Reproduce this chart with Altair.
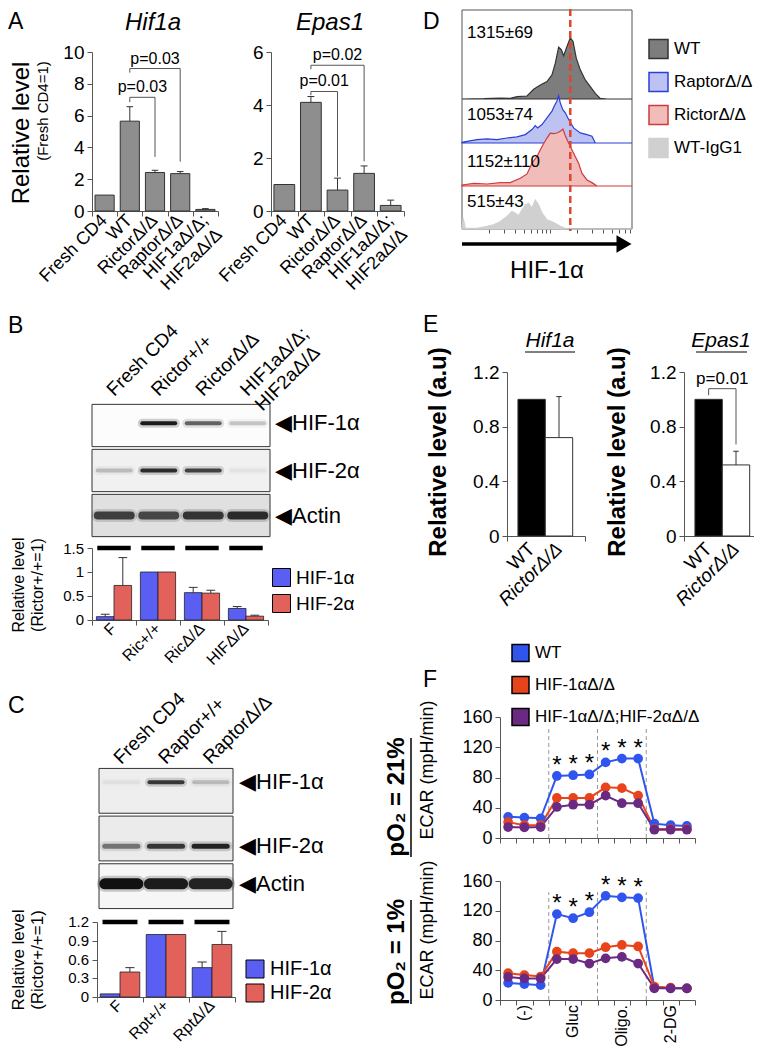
import altair as alt
import pandas as pd

W, H, M = 746, 1041, 8
FONT = "Liberation Sans"
AXC = "#555555"

# ---------------- DATA ----------------
# Panel A
A_cats = ["Fresh CD4", "WT", "RictorΔ/Δ", "RaptorΔ/Δ", "HIF1aΔ/Δ;\nHIF2aΔ/Δ"]
A_hif1a_mean = [1.00, 5.65, 2.42, 2.35, 0.10]
A_hif1a_sd = [0.00, 0.91, 0.14, 0.13, 0.05]
A_epas1_mean = [1.00, 4.10, 0.79, 1.42, 0.21]
A_epas1_sd = [0.00, 0.22, 0.45, 0.28, 0.20]
A_hif1a_p_label = ["p=0.03", "p=0.03"]
A_hif1a_p_from = [1, 1]
A_hif1a_p_to = [2, 3]
A_hif1a_p_top = [7.15, 8.96]
A_hif1a_p_left = [6.85, 8.70]
A_hif1a_p_right = [3.40, 3.10]
A_epas1_p_label = ["p=0.01", "p=0.02"]
A_epas1_p_from = [1, 1]
A_epas1_p_to = [2, 3]
A_epas1_p_top = [4.51, 5.50]
A_epas1_p_left = [4.37, 5.35]
A_epas1_p_right = [1.30, 1.87]

# Panel B
B_lanes = ["Fresh CD4", "Rictor+/+", "RictorΔ/Δ", "HIF1aΔ/Δ;\nHIF2aΔ/Δ"]
BLOT_proteins = ["HIF-1α", "HIF-2α", "Actin"]
B_band_intensity = [[0.00, 0.95, 0.60, 0.20],
                    [0.20, 0.85, 0.75, 0.05],
                    [0.75, 0.70, 0.80, 0.85]]
B_groups = ["F", "Ric+/+", "RicΔ/Δ", "HIFΔ/Δ"]
B_hif1_mean = [0.07, 1.00, 0.57, 0.24]
B_hif1_sd = [0.05, 0.00, 0.11, 0.04]
B_hif2_mean = [0.72, 1.00, 0.56, 0.08]
B_hif2_sd = [0.58, 0.00, 0.06, 0.02]
B_yticks = [0, 0.5, 1, 1.5]

# Panel C
C_lanes = ["Fresh CD4", "Raptor+/+", "RaptorΔ/Δ"]
C_band_intensity = [[0.05, 0.80, 0.20],
                    [0.50, 0.80, 0.90],
                    [1.00, 0.95, 0.90]]
C_groups = ["F", "Rpt+/+", "RptΔ/Δ"]
C_hif1_mean = [0.05, 1.00, 0.47]
C_hif1_sd = [0.00, 0.00, 0.09]
C_hif2_mean = [0.40, 1.00, 0.84]
C_hif2_sd = [0.07, 0.00, 0.21]
C_yticks = [0, 0.3, 0.6, 0.9, 1.2]
BC_series = ["HIF-1α", "HIF-2α"]

# Panel D (flow histograms, % of mode vs HIF-1α fluorescence)
D_samples = ["WT", "RaptorΔ/Δ", "RictorΔ/Δ", "WT-IgG1"]
D_mfi_text = ["1315±69", "1053±74", "1152±110", "515±43"]
D_wt_x = [100, 176, 272, 352, 420, 545, 648, 771, 917, 1045, 1140, 1243, 1333, 1416, 1545,
          1684, 1806, 1969, 2186, 2489, 2837, 3230, 3680, 4383, 8420]
D_wt_y = [0, 0.5, 1.6, 1.1, 3.8, 4.9, 15.9, 23, 28.6, 39.6, 58.8, 85, 80.8, 70.9, 86.3,
          100, 94.5, 67, 47.8, 31.3, 20.3, 9.3, 1.1, 0, 0]
D_rap_x = [100, 114, 148, 192, 249, 323, 420, 521, 620, 676, 719, 805, 917, 1045, 1110, 1189,
           1243, 1297, 1380, 1479, 1614, 1837, 2186, 2602, 2965, 3230, 8420]
D_rap_y = [1.4, 3.6, 7.1, 8.6, 7.1, 10.7, 12.9, 17.9, 28.6, 37.1, 32.1, 39.3, 53.6, 67.9, 78.6, 89.3,
           100, 85.7, 71.4, 64.3, 50, 32.1, 21.4, 17.9, 14.3, 0, 0]
D_ric_x = [100, 136, 192, 272, 352, 457, 545, 620, 706, 805, 917, 1000, 1091, 1189, 1297, 1390,
           1479, 1614, 1837, 2094, 2281, 2602, 2965, 3374, 8420]
D_ric_y = [1.8, 4.7, 3.5, 5.9, 5.9, 13.5, 21.2, 40, 51.8, 69.4, 84.1, 92.9, 91.8, 92.9, 95.9, 100,
           88.2, 75.3, 57.6, 40, 22.4, 10.6, 5.9, 0, 0]
D_igg_x = [100, 103, 109, 148, 192, 228, 272, 323, 368, 402, 438, 478, 521, 569, 620, 676, 738,
           805, 917, 1091, 1297, 1545, 8420]
D_igg_y = [0, 37.5, 3.4, 2.3, 9.1, 14.8, 26.1, 43.2, 60.2, 54.5, 45.5, 65.9, 83, 88.6, 71.6, 100, 83,
           54.5, 31.8, 22.7, 9.1, 0, 0]
D_ref_mfi = [1684]
D_ticks = [200, 300, 400, 500, 600, 700, 800, 900, 1000, 2000, 3000, 4000, 5000, 6000, 7000, 8000]

# Panel E
E_cats = ["WT", "RictorΔ/Δ"]
E_hif1a_mean = [1.00, 0.72]
E_hif1a_sd = [0.00, 0.30]
E_epas1_mean = [1.00, 0.52]
E_epas1_sd = [0.00, 0.10]
E_epas1_p_label = ["p=0.01"]
E_epas1_p_from = [0]
E_epas1_p_to = [1]
E_epas1_p_top = [1.078]
E_epas1_p_left = [1.03]
E_epas1_p_right = [0.67]

# Panel F (ECAR)
F_steps = list(range(1, 13))
F_series = ["WT", "HIF-1αΔ/Δ", "HIF-1αΔ/Δ;HIF-2αΔ/Δ"]
F_colors = ["#2f55ee", "#e8441c", "#6a2a82"]
F21_wt = [28, 27, 26, 82, 83, 84, 100, 105, 105, 19, 17, 16]
F21_hif1 = [21, 17, 17, 53, 53, 53, 67, 66, 56, 12, 12, 12]
F21_dko = [14.5, 14, 14.5, 41, 44, 44, 56, 46, 46, 11, 11, 11]
F1_wt = [23, 21.5, 20, 115.5, 110, 118, 140, 138, 137, 16.5, 15.7, 15.7]
F1_hif1 = [36, 33.5, 31.5, 65, 63, 63, 71, 74, 72, 18, 16.6, 15.7]
F1_dko = [31, 29, 29, 55, 55, 49, 56, 58, 49, 15.7, 15.7, 15.7]
F_xlabels = ["(-)", "Gluc", "Oligo.", "2-DG"]
F_xlabel_steps = [2, 5, 8, 11]
F_star_steps = [4, 5, 6, 7, 8, 9]


# ---------------- helpers ----------------
def X(v):
    return v - M


def Y(v):
    return v - M


def ax_y(axis_x, values, size, labels=True):
    return alt.Axis(orient="left", offset=-X(axis_x), values=values, title=None, grid=False,
                    labels=labels, labelFont=FONT, labelFontSize=size, labelColor="black",
                    labelPadding=3, labelOverlap=False, labelFlush=False, labelBound=False,
                    format="~r", domainColor=AXC, tickColor=AXC, tickSize=5)


def ax_x(axis_y, values, tick=5, domain=True):
    return alt.Axis(orient="bottom", offset=Y(axis_y) - H, values=values, labels=False, title=None,
                    grid=False, domain=domain, domainColor=AXC, tickColor=AXC, tickSize=tick)


ONE = pd.DataFrame({"t": ["x"]})


def txt(s, x, y, size, weight="normal", style="normal", angle=0, align="center",
        baseline="middle", color="black"):
    return alt.Chart(pd.DataFrame({"t": [s]})).mark_text(
        font=FONT, fontSize=size, fontWeight=weight, fontStyle=style, angle=angle,
        align=align, baseline=baseline, color=color, lineBreak="\n"
    ).encode(text="t:N", x=alt.value(X(x)), y=alt.value(Y(y)))


def seg(x0, x1, y0, y1, width=1.0, color="black"):
    return alt.Chart(ONE).mark_rule(color=color, strokeWidth=width).encode(
        x=alt.value(X(x0)), x2=alt.value(X(x1)), y=alt.value(Y(y0)), y2=alt.value(Y(y1)))


def brackets(labels, frm, to, top, left, right):
    return {"p": labels, "a": frm, "b": to, "top": top, "lb": left, "rb": right}


def bar_panel(cats, mean, sd, lefts, rights, centers, xdom, xticks, x0, x1, yb, yt, ydom,
              yvals, tsize, fills, cap, br=None, br_size=15):
    df = pd.DataFrame({"cat": cats, "m": mean, "sd": sd, "l": lefts, "r": rights, "c": centers})
    df["z"] = 0.0
    df["top"] = df["m"] + df["sd"]
    df["cl"] = df["c"] - cap
    df["cr"] = df["c"] + cap
    xs = alt.Scale(domain=xdom, range=[X(x0), X(x1)], nice=False, zero=False)
    ys = alt.Scale(domain=ydom, range=[Y(yb), Y(yt)], nice=False, zero=False)
    xa = ax_x(yb, xticks)
    ya = ax_y(x0, yvals, tsize)

    def ex(f):
        return alt.X(f, type="quantitative", scale=xs, axis=xa)

    def ey(f):
        return alt.Y(f, type="quantitative", scale=ys, axis=ya)

    base = alt.Chart(df)
    layers = [base.mark_rect(stroke="#333333", strokeWidth=1).encode(
        x=ex("l"), x2="r", y=ey("m"), y2="z",
        fill=alt.Fill("cat:N", scale=alt.Scale(domain=cats, range=fills), legend=None))]
    eb = base.transform_filter("datum.sd > 0")
    layers += [eb.mark_rule(color="#333333").encode(x=ex("c"), y=ey("m"), y2="top"),
               eb.mark_rule(color="#333333").encode(x=ex("cl"), x2="cr", y=ey("top"))]
    if br is not None:
        bd = pd.DataFrame(br)
        bd["xa"] = [centers[k] for k in bd["a"]]
        bd["xb"] = [centers[k] for k in bd["b"]]
        bd["mid"] = (bd["xa"] + bd["xb"]) / 2
        bb = alt.Chart(bd)
        layers += [
            bb.mark_rule(color="#555555").encode(x=ex("xa"), x2="xb", y=ey("top")),
            bb.mark_rule(color="#555555").encode(x=ex("xa"), y=ey("top"), y2="lb"),
            bb.mark_rule(color="#555555").encode(x=ex("xb"), y=ey("top"), y2="rb"),
            bb.mark_text(font=FONT, fontSize=br_size, baseline="alphabetic", dy=-5).encode(
                x=ex("mid"), y=ey("top"), text="p:N"),
        ]
    return layers, ex, ey


def xlabels(ex, centers, labels, y, size, angle=315, align="right", baseline="middle",
            style="normal"):
    return alt.Chart(pd.DataFrame({"c": centers, "t": labels})).mark_text(
        font=FONT, fontSize=size, angle=angle, align=align, baseline=baseline,
        fontStyle=style, lineBreak="\n").encode(x=ex("c"), y=alt.value(Y(y)), text="t:N")


def grouped_panel(groups, m1, s1, m2, s2, colors, x0, x1, yb, yt, ydom, yvals, lane_y, tsize,
                  halfw, cap, lab_y, lab_size, leg, label_vals):
    n = len(groups)
    rows = []
    for i in range(n):
        rows.append({"g": groups[i], "s": BC_series[0], "m": m1[i], "sd": s1[i],
                     "l": i - halfw, "r": float(i), "c": i - halfw / 2})
        rows.append({"g": groups[i], "s": BC_series[1], "m": m2[i], "sd": s2[i],
                     "l": float(i), "r": i + halfw, "c": i + halfw / 2})
    df = pd.DataFrame(rows)
    df["z"] = 0.0
    df["top"] = df["m"] + df["sd"]
    df["cl"] = df["c"] - cap
    df["cr"] = df["c"] + cap
    xs = alt.Scale(domain=[-0.5, n - 0.5], range=[X(x0), X(x1)], nice=False, zero=False)
    ys = alt.Scale(domain=ydom, range=[Y(yb), Y(yt)], nice=False, zero=False)
    xa = ax_x(yb, [k - 0.5 for k in range(n + 1)])
    ya = ax_y(x0, yvals, tsize, labels=False)

    def ex(f):
        return alt.X(f, type="quantitative", scale=xs, axis=xa)

    def ey(f):
        return alt.Y(f, type="quantitative", scale=ys, axis=ya)

    base = alt.Chart(df)
    bars = base.mark_rect(stroke="#222222", strokeWidth=0.8).encode(
        x=ex("l"), x2="r", y=ey("m"), y2="z",
        color=alt.Color("s:N", scale=alt.Scale(domain=BC_series, range=colors), legend=leg))
    eb = base.transform_filter("datum.sd > 0")
    err = eb.mark_rule(color="#333333").encode(x=ex("c"), y=ey("m"), y2="top")
    capm = eb.mark_rule(color="#333333").encode(x=ex("cl"), x2="cr", y=ey("top"))
    lanes = pd.DataFrame({"l": [i - 0.38 for i in range(n)], "r": [i + 0.38 for i in range(n)],
                          "y": [lane_y] * n})
    lane_rule = alt.Chart(lanes).mark_rule(color="black", strokeWidth=4.5).encode(
        x=ex("l"), x2="r", y=ey("y"))
    labs = xlabels(ex, list(range(n)), groups, lab_y, lab_size)
    # tick labels of the value axis, drawn as text through the same y scale
    tdf = pd.DataFrame({"v": [float(v) for v in label_vals]})
    tdf["t"] = [f"{v:g}" for v in label_vals]
    ticks = alt.Chart(tdf).mark_text(font=FONT, fontSize=tsize, align="right",
                                     baseline="middle", color="black").encode(
        x=alt.value(X(x0) - 8), y=ey("v"), text="t:N")
    return alt.layer(bars, err, capm, lane_rule, labs, ticks)


def blot_panel(lane_labels, intens, widths, fills, bandpos, x0, x1, y0, y1, hdr_y, hdr_size,
               lab_x, lab_size):
    nl = len(lane_labels)
    nr = len(BLOT_proteins)
    xs = alt.Scale(domain=[0, nl], range=[X(x0), X(x1)], nice=False, zero=False)
    ys = alt.Scale(domain=[0, nr], range=[Y(y0), Y(y1)], nice=False, zero=False)

    def ex(f):
        return alt.X(f, type="quantitative", scale=xs, axis=None)

    def ey(f):
        return alt.Y(f, type="quantitative", scale=ys, axis=None)

    boxes = pd.DataFrame({"p": ["◀" + p for p in BLOT_proteins], "bg": fills,
                          "a": [0.0] * nr, "b": [float(nl)] * nr,
                          "t": [r + 0.03 for r in range(nr)], "u": [r + 0.97 for r in range(nr)],
                          "c": [r + bandpos[r] for r in range(nr)]})
    rows = []
    for r in range(nr):
        for j in range(nl):
            rows.append({"l": j + 0.13, "r": j + 0.87, "y": r + bandpos[r],
                         "o": intens[r][j], "w": widths[r],
                         "ho": intens[r][j] * 0.22, "hw": widths[r] + 5})
    bands = pd.DataFrame(rows)
    box = alt.Chart(boxes).mark_rect(stroke="#333333", strokeWidth=1).encode(
        x=ex("a"), x2="b", y=ey("t"), y2="u", fill=alt.Fill("bg:N", scale=None))
    halo = alt.Chart(bands).mark_rule(color="#222222", strokeCap="round").encode(
        x=ex("l"), x2="r", y=ey("y"), strokeWidth=alt.StrokeWidth("hw:Q", scale=None),
        opacity=alt.Opacity("ho:Q", scale=None))
    band = alt.Chart(bands).mark_rule(color="#111111", strokeCap="round").encode(
        x=ex("l"), x2="r", y=ey("y"), strokeWidth=alt.StrokeWidth("w:Q", scale=None),
        opacity=alt.Opacity("o:Q", scale=None))
    hdr = alt.Chart(pd.DataFrame({"c": [j + 0.5 for j in range(nl)], "t": lane_labels})).mark_text(
        font=FONT, fontSize=hdr_size, angle=315, align="left", baseline="alphabetic",
        lineBreak="\n").encode(x=ex("c"), y=alt.value(Y(hdr_y)), text="t:N")
    lab = alt.Chart(boxes).mark_text(font=FONT, fontSize=lab_size, align="left",
                                     baseline="middle").encode(
        x=alt.value(X(lab_x)), y=ey("c"), text="p:N")
    return alt.layer(box, halo, band, hdr, lab)


def legend(x, y, sym, font, rowpad, strokew=1.0):
    return alt.Legend(orient="none", legendX=X(x), legendY=Y(y), title=None, symbolType="square",
                      symbolSize=sym * sym, symbolStrokeColor="black", symbolStrokeWidth=strokew,
                      labelFont=FONT, labelFontSize=font, labelOffset=5, rowPadding=rowpad,
                      padding=0, labelLimit=400, symbolOffset=0)


# ---------------- Panel A ----------------
nA = len(A_cats)
cA = list(range(nA))
layA1, exA1, _ = bar_panel(
    A_cats, A_hif1a_mean, A_hif1a_sd, [c - 0.38 for c in cA], [c + 0.38 for c in cA], cA,
    [-0.5, nA - 0.5], [k - 0.5 for k in range(nA + 1)], 92, 218, 211, 52, [0, 10],
    [0, 2, 4, 6, 8, 10], 19, ["#8e8e8e"] * nA, 0.13,
    br=brackets(A_hif1a_p_label, A_hif1a_p_from, A_hif1a_p_to, A_hif1a_p_top,
                A_hif1a_p_left, A_hif1a_p_right), br_size=16)
panelA1 = alt.layer(*layA1, xlabels(exA1, cA, A_cats, 218, 18))

layA2, exA2, _ = bar_panel(
    A_cats, A_epas1_mean, A_epas1_sd, [c - 0.39 for c in cA], [c + 0.39 for c in cA], cA,
    [-0.5, nA - 0.5], [k - 0.5 for k in range(nA + 1)], 271, 404, 211, 52, [0, 6],
    [0, 2, 4, 6], 19, ["#8e8e8e"] * nA, 0.13,
    br=brackets(A_epas1_p_label, A_epas1_p_from, A_epas1_p_to, A_epas1_p_top,
                A_epas1_p_left, A_epas1_p_right), br_size=16)
panelA2 = alt.layer(*layA2, xlabels(exA2, cA, A_cats, 218, 18))

# ---------------- Panel B ----------------
blotB = blot_panel(B_lanes, B_band_intensity, [4, 4, 8], ["#fcfcfc", "#f1f1f1", "#e0e0e0"],
                   [0.45, 0.5, 0.5], 92, 270, 403, 538, 397, 19, 275, 22)
barsB = grouped_panel(B_groups, B_hif1_mean, B_hif1_sd, B_hif2_mean, B_hif2_sd,
                      ["#5a5ef2", "#e2625b"], 92, 268, 620, 548, [0, 1.5], B_yticks,
                      1.5, 15, 0.4, 0.1, 626, 16, legend(272, 568, 18, 19, 3), B_yticks[:-1])

# ---------------- Panel C ----------------
blotC = blot_panel(C_lanes, C_band_intensity, [4, 5, 11], ["#eeeeee", "#ebebeb", "#f6f6f6"],
                   [0.32, 0.66, 0.45], 99, 233, 767, 910, 765, 19, 239, 22)
barsC = grouped_panel(C_groups, C_hif1_mean, C_hif1_sd, C_hif2_mean, C_hif2_sd,
                      ["#5a5ef2", "#e2625b"], 97, 235, 997, 922, [0, 1.2],
                      C_yticks, 1.2, 15, 0.43, 0.1, 1003, 16,
                      legend(245, 959, 18, 20, 2), C_yticks)

# ---------------- Panel D ----------------
xsD = alt.Scale(type="log", domain=[100, 8420], range=[X(462), X(632)], nice=False)
xaD = ax_x(229, D_ticks, tick=4, domain=False)
fsD = alt.Scale(domain=D_samples, range=["#7d7d7d", "#bcc3f2", "#f0bdba", "#d0d0d0"])
ssD = alt.Scale(domain=D_samples, range=["#333333", "#2b3fd6", "#d03a3a", "#d0d0d0"])
legD = alt.Legend(orient="none", legendX=X(648), legendY=Y(38.5), title=None, symbolType="square",
                  symbolSize=361, symbolStrokeWidth=1.5, labelFont=FONT, labelFontSize=17,
                  labelOffset=5, rowPadding=8, padding=0, labelLimit=400, symbolOffset=0)
frameD = alt.Chart(ONE).mark_rect(fill="white", fillOpacity=0, stroke=AXC, strokeWidth=1).encode(
    x=alt.value(X(462)), x2=alt.value(X(632)), y=alt.value(Y(10)), y2=alt.value(Y(229)))
d_layers = [frameD]
for name, xv, yv, base, peak in zip(D_samples, [D_wt_x, D_rap_x, D_ric_x, D_igg_x],
                                    [D_wt_y, D_rap_y, D_ric_y, D_igg_y],
                                    [99, 143, 186, 229], [61, 47, 57, 29]):
    dfh = pd.DataFrame({"x": xv, "y": yv})
    dfh["s"] = name
    dfh["z"] = 0.0
    ysc = alt.Scale(domain=[0, 100], range=[Y(base), Y(base - peak)], nice=False, zero=False)
    d_layers.append(alt.Chart(dfh).mark_area(strokeWidth=1.2, interpolate="linear").encode(
        x=alt.X("x:Q", scale=xsD, axis=xaD), y=alt.Y("y:Q", scale=ysc, axis=None), y2="z",
        fill=alt.Fill("s:N", scale=fsD, legend=legD),
        stroke=alt.Stroke("s:N", scale=ssD, legend=legD)))
d_layers.append(alt.Chart(pd.DataFrame({"v": D_ref_mfi})).mark_rule(
    color="#e0452e", strokeWidth=2.5, strokeDash=[7, 4]).encode(
    x=alt.X("v:Q", scale=xsD, axis=xaD), y=alt.value(Y(9)), y2=alt.value(Y(231))))
panelD = alt.layer(*d_layers).resolve_scale(y="independent")

# ---------------- Panel E ----------------
eL = [0.0, 1.0]
eR = [1.0, 2.0]
eC = [0.5, 1.5]
layE1, exE1, _ = bar_panel(E_cats, E_hif1a_mean, E_hif1a_sd, eL, eR, eC, [-0.4, 2.45],
                           [-0.4, 2.45], 507, 585, 536, 372, [0, 1.2], [0, 0.4, 0.8, 1.2], 19,
                           ["black", "white"], 0.1)
layE2, exE2, _ = bar_panel(E_cats, E_epas1_mean, E_epas1_sd, eL, eR, eC, [-0.4, 2.45],
                           [-0.4, 2.45], 684, 762, 536, 372, [0, 1.2], [0, 0.4, 0.8, 1.2], 19,
                           ["black", "white"], 0.1,
                           br=brackets(E_epas1_p_label, E_epas1_p_from, E_epas1_p_to,
                                       E_epas1_p_top, E_epas1_p_left, E_epas1_p_right),
                           br_size=17)
panelE1 = alt.layer(*layE1, xlabels(exE1, [eC[0]], [E_cats[0]], 546, 19),
                    xlabels(exE1, [eC[1]], [E_cats[1]], 546, 19, style="italic"))
panelE2 = alt.layer(*layE2, xlabels(exE2, [eC[0]], [E_cats[0]], 546, 19),
                    xlabels(exE2, [eC[1]], [E_cats[1]], 546, 19, style="italic"))


# ---------------- Panel F ----------------
def f_panel(wt, h1, dko, yb, yt, leg, labels):
    rows = []
    for s, vals in zip(F_series, [wt, h1, dko]):
        for st, v in zip(F_steps, vals):
            rows.append({"step": st, "s": s, "v": v})
    df = pd.DataFrame(rows)
    xs = alt.Scale(domain=[0.5, 12.5], range=[X(500), X(695)], nice=False, zero=False)
    ys = alt.Scale(domain=[0, 160], range=[Y(yb), Y(yt)], nice=False, zero=False)
    xa = ax_x(yb, [k + 0.5 for k in range(13)])
    ya = ax_y(500, [0, 40, 80, 120, 160], 18)

    def ex(f):
        return alt.X(f, type="quantitative", scale=xs, axis=xa)

    def ey(f):
        return alt.Y(f, type="quantitative", scale=ys, axis=ya)

    # fill scale (points, carries the legend); line scale uses the reversed domain order
    fs = alt.Scale(domain=F_series, range=F_colors)
    ls = alt.Scale(domain=F_series[::-1], range=F_colors[::-1])
    bounds = pd.DataFrame({"b": [3 * k + 0.5 for k in (1, 2, 3)], "lo": [0.0] * 3,
                           "hi": [145.0] * 3})
    dash = alt.Chart(bounds).mark_rule(color="#999999", strokeWidth=1, strokeDash=[4, 3]).encode(
        x=ex("b"), y=ey("lo"), y2="hi")
    base = alt.Chart(df)
    lines = base.mark_line(strokeWidth=2).encode(
        x=ex("step"), y=ey("v"), stroke=alt.Stroke("s:N", scale=ls, legend=None),
        detail="s:N")
    if leg is None:
        fill_enc = alt.Fill("s:N", scale=fs, legend=None)
    else:
        fill_enc = alt.Fill("s:N", scale=fs, legend=leg)
    pts = base.mark_circle(size=95, opacity=1).encode(x=ex("step"), y=ey("v"), fill=fill_enc)
    sdf = df[(df["s"] == "WT") & (df["step"].isin(F_star_steps))]
    stars = alt.Chart(sdf).mark_text(text="*", font=FONT, fontSize=24, baseline="alphabetic",
                                     dy=-3).encode(x=ex("step"), y=ey("v"))
    layers = [dash, lines, pts, stars]
    if labels:
        layers.append(alt.Chart(pd.DataFrame({"c": F_xlabel_steps, "t": F_xlabels})).mark_text(
            font=FONT, fontSize=16, angle=270, align="right", baseline="middle").encode(
            x=ex("c"), y=alt.value(Y(1005)), text="t:N"))
    return alt.layer(*layers)


panelF1 = f_panel(F21_wt, F21_hif1, F21_dko, 838, 717, legend(511, 643.5, 17, 17, 9, 1.5), False)
panelF2 = f_panel(F1_wt, F1_hif1, F1_dko, 1000, 881, None, True)

# ---------------- annotations ----------------
notes = [
    txt("A", 8, 29, 23, align="left", baseline="alphabetic"),
    txt("B", 8, 333, 23, align="left", baseline="alphabetic"),
    txt("C", 8, 713, 23, align="left", baseline="alphabetic"),
    txt("D", 423, 29, 23, align="left", baseline="alphabetic"),
    txt("E", 423, 332, 23, align="left", baseline="alphabetic"),
    txt("F", 423, 687, 23, align="left", baseline="alphabetic"),
    txt("Hif1a", 153, 23, 24, style="italic"), txt("Epas1", 330, 23, 24, style="italic"),
    txt("Relative level", 22, 133, 24, angle=270), txt("(Fresh CD4=1)", 43, 111, 15, angle=270),
    txt("Relative level", 19, 585, 16, angle=270), txt("(Rictor+/+=1)", 38, 585, 16, angle=270),
    txt("Relative level", 19, 960, 17, angle=270), txt("(Rictor+/+=1)", 38, 960, 17, angle=270),
    txt("1.5", 84, 549, 15, align="right"),
    txt(D_mfi_text[0], 467, 33, 17, align="left"), txt(D_mfi_text[1], 467, 115, 17, align="left"),
    txt(D_mfi_text[2], 467, 162, 17, align="left"), txt(D_mfi_text[3], 467, 202, 17, align="left"),
    seg(462, 618, 244, 244, width=3.5),
    alt.Chart(ONE).mark_point(shape="triangle-right", filled=True, size=300, color="black",
                              opacity=1).encode(x=alt.value(X(624)), y=alt.value(Y(244))),
    txt("HIF-1α", 547, 271, 24),
    txt("Hif1a", 550, 341, 21, style="italic"), seg(525, 575, 352, 352, width=1),
    txt("Epas1", 721, 341, 21, style="italic"), seg(696, 747, 352, 352, width=1),
    txt("Relative level (a.u)", 439, 452, 24, weight="bold", angle=270),
    txt("Relative level (a.u)", 618, 452, 24, weight="bold", angle=270),
    txt("ECAR (mpH/min)", 428, 770, 18, angle=270),
    txt("ECAR (mpH/min)", 428, 930, 18, angle=270),
    txt("pO₂ = 21%", 397, 797, 24, weight="bold", angle=270), seg(411, 411, 738, 857, width=1.5),
    txt("pO₂ = 1%", 397, 952, 24, weight="bold", angle=270), seg(411, 411, 900, 1004, width=1.5),
]

chart = alt.layer(
    panelA1, panelA2, blotB, barsB, blotC, barsC, panelD, panelE1, panelE2, panelF1, panelF2,
    *notes
).resolve_scale(
    x="independent", y="independent", color="independent", fill="independent",
    stroke="independent"
).properties(
    width=W, height=H, padding=0, autosize=alt.AutoSizeParams(type="none"), background="white"
).configure_view(stroke=None)

chart.save("out.html", embed_options={"renderer": "svg", "actions": False})
